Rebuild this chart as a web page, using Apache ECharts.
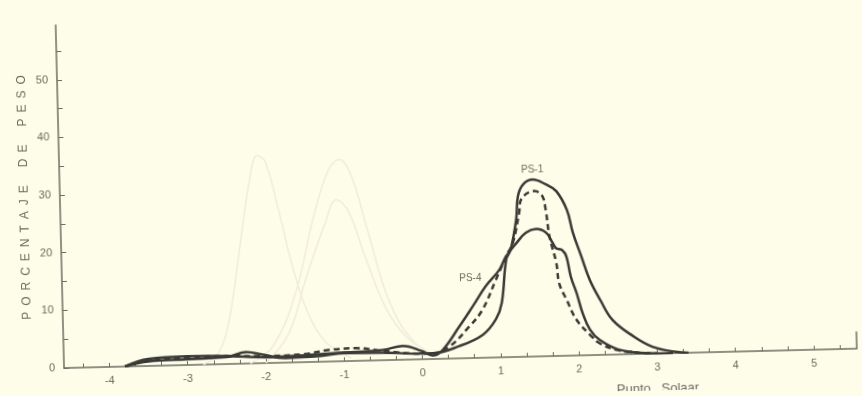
<!DOCTYPE html>
<html>
<head>
<meta charset="utf-8">
<script src="https://cdn.jsdelivr.net/npm/echarts@6/dist/echarts.min.js"></script>
<style>
  html, body { margin: 0; padding: 0; background: #fefde9; overflow: hidden; }
  #chart { width: 862px; height: 396px; transform: rotate(-1.4deg); transform-origin: 50% 50%; }
</style>
</head>
<body>
<div id="chart"></div>
<script>
// Grain-size distributions (phi units) – weight percent per fraction
const xTickValues = [];
for (let k = -13; k <= 16; k++) xTickValues.push(k / 3);
const xLabelValues = [-4, -3, -2, -1, 0, 1, 2, 3, 4, 5];
const yTickValues = [0, 5, 10, 15, 20, 25, 30, 35, 40, 45, 50, 55];
const yLabelValues = [0, 10, 20, 30, 40, 50];

// PS-1 (tallest solid curve)
const ps1 = [
  [-3.8, 0], [-3.5, 0.8], [-3.0, 1.0], [-2.5, 1.2], [-2.25, 2.0], [-2.05, 1.5],
  [-1.75, 0.8], [-1.3, 1.0], [-1.0, 1.4], [-0.5, 1.3], [0, 1.0],
  [0.13, 1.0], [0.47, 2.1], [0.78, 4.0], [0.95, 6.6], [1.03, 9.4], [1.10, 16.9],
  [1.16, 18.6], [1.24, 23.8], [1.27, 27.9], [1.34, 29.9], [1.46, 30.7], [1.63, 29.8],
  [1.76, 28.6], [1.89, 25.3], [1.96, 21.3], [2.06, 17.2], [2.16, 13.1], [2.29, 9.5],
  [2.44, 6.0], [2.70, 3.1], [2.94, 1.2], [3.24, 0.2], [3.4, 0]
];
// Dashed curve
const psDashed = [
  [-3.8, 0], [-3.5, 1.0], [-3.0, 1.3], [-2.5, 1.4], [-2.0, 1.2], [-1.5, 1.4],
  [-1.2, 2.0], [-0.85, 2.2], [-0.5, 1.6], [0, 1.0], [0.13, 1.0], [0.35, 2.1],
  [0.61, 5.5], [0.78, 8.3], [0.96, 13.4], [1.10, 17.5], [1.19, 19.8], [1.28, 25.0],
  [1.31, 27.3], [1.48, 28.7], [1.58, 27.8], [1.62, 25.4], [1.66, 20.8], [1.74, 16.1],
  [1.77, 12.6], [1.86, 9.7], [1.98, 6.2], [2.15, 3.5], [2.27, 2.0], [2.48, 0.8],
  [2.7, 0.3], [3.0, 0]
];
// PS-4 (lower solid curve)
const ps4 = [
  [-3.8, 0], [-3.5, 1.2], [-3.0, 1.5], [-2.5, 1.4], [-2.0, 1.0], [-1.5, 1.2],
  [-1.0, 1.5], [-0.5, 1.8], [-0.25, 2.4], [0, 1.4], [0.13, 0.6], [0.26, 1.5],
  [0.48, 5.5], [0.66, 9.0], [0.83, 12.4], [1.01, 15.2], [1.10, 17.5], [1.24, 19.8],
  [1.36, 21.5], [1.49, 22.1], [1.62, 21.4], [1.70, 19.6], [1.74, 18.7], [1.82, 18.3],
  [1.87, 17.2], [1.92, 13.7], [1.99, 10.8], [2.06, 7.3], [2.15, 4.4], [2.27, 2.6],
  [2.52, 0.8], [2.9, 0.1], [3.2, 0]
];
// Faint curves printed through from the facing page
const faintA = [
  [-2.8, 0], [-2.6, 2], [-2.45, 8], [-2.3, 20], [-2.15, 32], [-2.05, 36], [-1.95, 35],
  [-1.8, 27], [-1.6, 15], [-1.4, 7], [-1.2, 3], [-0.9, 0.5]
];
const faintB = [
  [-2.2, 0], [-1.9, 3], [-1.6, 12], [-1.35, 25], [-1.15, 33], [-1.0, 35], [-0.85, 32],
  [-0.65, 22], [-0.4, 10], [-0.1, 3], [0.2, 0.5]
];
const faintC = [
  [-2.0, 0], [-1.7, 5], [-1.45, 15], [-1.2, 24], [-1.05, 28], [-0.9, 26], [-0.7, 18],
  [-0.45, 9], [-0.2, 4], [0.1, 1]
];

const ink = '#3a3a36';
const textInk = '#6b6a5c';
const faint = '#efedda';
const spaced = s => s.split('').join('\u2002');

function withLabel(data, index, label) {
  return data.map((p, i) => i === index ? { value: p, label: label } : p);
}

const chart = echarts.init(document.getElementById('chart'));
chart.setOption({
  backgroundColor: '#fefde9',
  animation: false,
  textStyle: { fontFamily: 'Liberation Sans' },
  grid: { left: 60, right: 9, top: 16, bottom: 37 },
  xAxis: {
    type: 'value', min: -4.58, max: 5.55,
    axisLine: { onZero: false, lineStyle: { color: '#6e6d62', width: 1.5 } },
    axisTick: { inside: true, length: 4, customValues: xTickValues, lineStyle: { color: '#6e6d62' } },
    axisLabel: { customValues: xLabelValues, color: textInk, fontSize: 11, margin: 8 },
    splitLine: { show: false }
  },
  yAxis: {
    type: 'value', min: 0, max: 59.5,
    name: spaced('PORCENTAJE') + '\u2003\u2002' + spaced('DE') + '\u2003\u2002' + spaced('PESO'),
    nameLocation: 'middle', nameRotate: 90, nameGap: 29, nameMoveOverlap: false,
    nameTextStyle: { color: textInk, fontSize: 12 },
    axisLine: { show: true, onZero: false, lineStyle: { color: '#6e6d62', width: 1.5 } },
    axisTick: { show: true, inside: true, length: 5, customValues: yTickValues, lineStyle: { color: '#6e6d62' } },
    axisLabel: { customValues: yLabelValues, color: textInk, fontSize: 11, margin: 9 },
    splitLine: { show: false }
  },
  series: [
    { type: 'line', data: faintA, smooth: 0.4, symbol: 'none', silent: true, lineStyle: { color: faint, width: 1.5 } },
    { type: 'line', data: faintB, smooth: 0.4, symbol: 'none', silent: true, lineStyle: { color: faint, width: 1.5 } },
    { type: 'line', data: faintC, smooth: 0.4, symbol: 'none', silent: true, lineStyle: { color: faint, width: 1.5 } },
    {
      type: 'line', name: 'PS-1', smooth: 0.4, symbol: 'circle', symbolSize: 0, showSymbol: true,
      data: withLabel(ps1, 21, { show: true, formatter: 'PS-1', position: 'top', distance: 5, color: textInk, fontSize: 10 }),
      lineStyle: { color: ink, width: 2.5 },
      markLine: {
        silent: true, symbol: 'none', label: { show: false },
        lineStyle: { color: '#6e6d62', width: 1.5, type: 'solid' },
        data: [[{ coord: [5.55, 0] }, { coord: [5.55, 3] }]]
      }
    },
    {
      type: 'line', smooth: 0.4, symbol: 'none', data: psDashed,
      lineStyle: { color: ink, width: 2.5, type: [6, 4] }
    },
    {
      type: 'line', name: 'PS-4', smooth: 0.4, symbol: 'circle', symbolSize: 0, showSymbol: true,
      data: withLabel(ps4, 14, { show: true, formatter: 'PS-4', position: 'left', distance: 4, offset: [0, -8], color: textInk, fontSize: 10 }),
      lineStyle: { color: ink, width: 2.5 }
    }
  ],
  graphic: [
    { type: 'text', left: 612, top: 388, style: { text: 'Punto   Solaar', fill: textInk, font: '13px "Liberation Sans"' } }
  ]
});
</script>
</body>
</html>
